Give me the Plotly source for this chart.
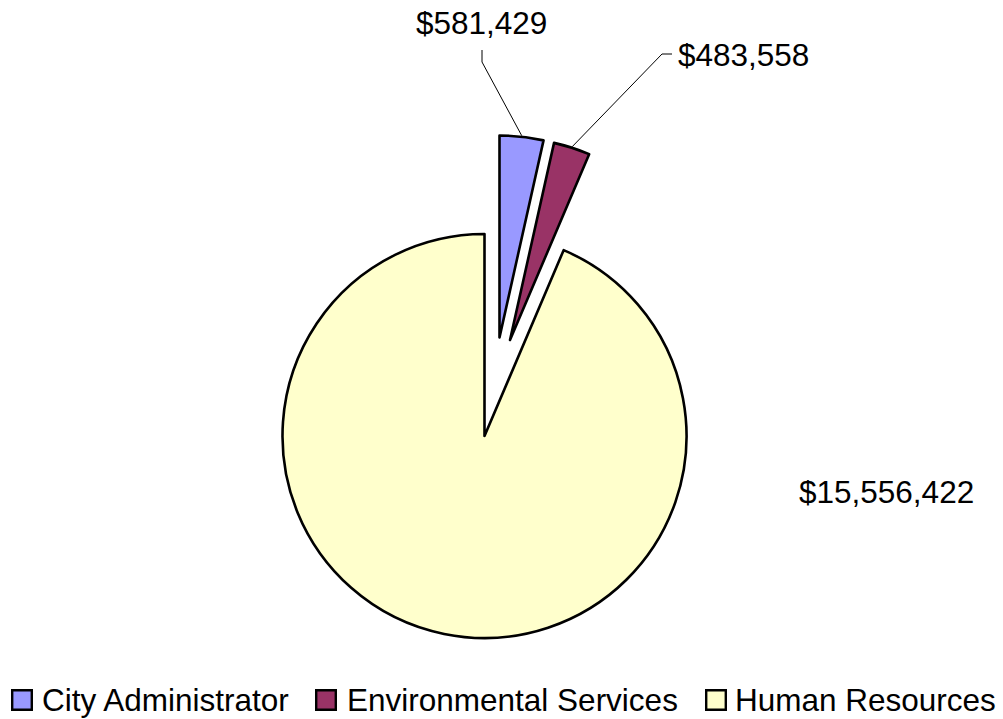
import math
import plotly.graph_objects as go

# Budget by department
departments = ["City Administrator", "Environmental Services", "Human Resources"]
budget = [581429, 483558, 15556422]
slice_colors = ["#9999FF", "#993366", "#FFFFCC"]

# Figure size in pixels (margins are zero, so paper == pixels)
W, H = 1003, 719
FONT = "Liberation Sans, Arial, Helvetica, sans-serif"
FONT_SIZE = 31.5
OUTLINE = 2.6

# Slice centres in pixels: the main body and the two exploded wedges
R = 202
slice_centers = [(499.5, 337.5), (510.0, 340.0), (484.5, 436.0)]

# Value label positions (pixel centres) and leader-line elbows
label_pos = [(481, 23), (743, 55), (886, 492)]
leader_elbows = [
    [(482, 50), (482, 62)],
    [(672, 54), (662, 54)],
    None,
]

# Legend layout (pixels)
legend_swatch_x = [11, 315, 705]
legend_text_x = [40, 345, 733]
legend_y = 700
swatch = 22


def px(x):
    return x / W


def py(y):
    return 1 - y / H


total = sum(budget)
cum = [0.0]
for v in budget:
    cum.append(cum[-1] + v / total)

fig = go.Figure()

for i, (cx, cy) in enumerate(slice_centers):
    colors = [c if j == i else "rgba(0,0,0,0)" for j, c in enumerate(slice_colors)]
    widths = [OUTLINE if j == i else 0 for j in range(len(budget))]
    fig.add_trace(
        go.Pie(
            labels=departments,
            values=budget,
            sort=False,
            direction="clockwise",
            rotation=0,
            marker=dict(colors=colors, line=dict(color="black", width=widths)),
            textinfo="none",
            hoverinfo="label+value",
            showlegend=False,
            domain=dict(
                x=[px(cx - R), px(cx + R)],
                y=[py(cy + R), py(cy - R)],
            ),
        )
    )

annotations = []
shapes = []

# Value labels and leader lines to the middle of each wedge's outer arc
for i, v in enumerate(budget):
    lx, ly = label_pos[i]
    annotations.append(
        dict(
            x=px(lx), y=py(ly), xref="paper", yref="paper",
            text=f"${v:,}", showarrow=False,
            xanchor="center", yanchor="middle",
            font=dict(family=FONT, size=FONT_SIZE, color="black"),
        )
    )
    if leader_elbows[i]:
        cx, cy = slice_centers[i]
        theta = math.pi * (cum[i] + cum[i + 1])
        ex = cx + (R + 1) * math.sin(theta)
        ey = cy - (R + 1) * math.cos(theta)
        pts = leader_elbows[i] + [(ex, ey)]
        path = "M " + " L ".join(f"{px(x)},{py(y)}" for x, y in pts)
        shapes.append(
            dict(type="path", xref="paper", yref="paper", path=path,
                 line=dict(color="black", width=1))
        )

# Legend: coloured squares followed by department names
for i, name in enumerate(departments):
    sx = legend_swatch_x[i]
    shapes.append(
        dict(
            type="rect", xref="paper", yref="paper",
            x0=px(sx + 1.2), x1=px(sx + swatch - 1.2),
            y0=py(legend_y + swatch / 2 - 1.2), y1=py(legend_y - swatch / 2 + 1.2),
            fillcolor=slice_colors[i], line=dict(color="black", width=2.4),
        )
    )
    annotations.append(
        dict(
            x=px(legend_text_x[i]), y=py(legend_y), xref="paper", yref="paper",
            text=name, showarrow=False, xanchor="left", yanchor="middle",
            font=dict(family=FONT, size=FONT_SIZE, color="black"),
        )
    )

fig.update_layout(
    width=W,
    height=H,
    margin=dict(l=0, r=0, t=0, b=0),
    paper_bgcolor="white",
    plot_bgcolor="white",
    font=dict(family=FONT, size=FONT_SIZE, color="black"),
    annotations=annotations,
    shapes=shapes,
    showlegend=False,
)

fig.write_html("out.html")
